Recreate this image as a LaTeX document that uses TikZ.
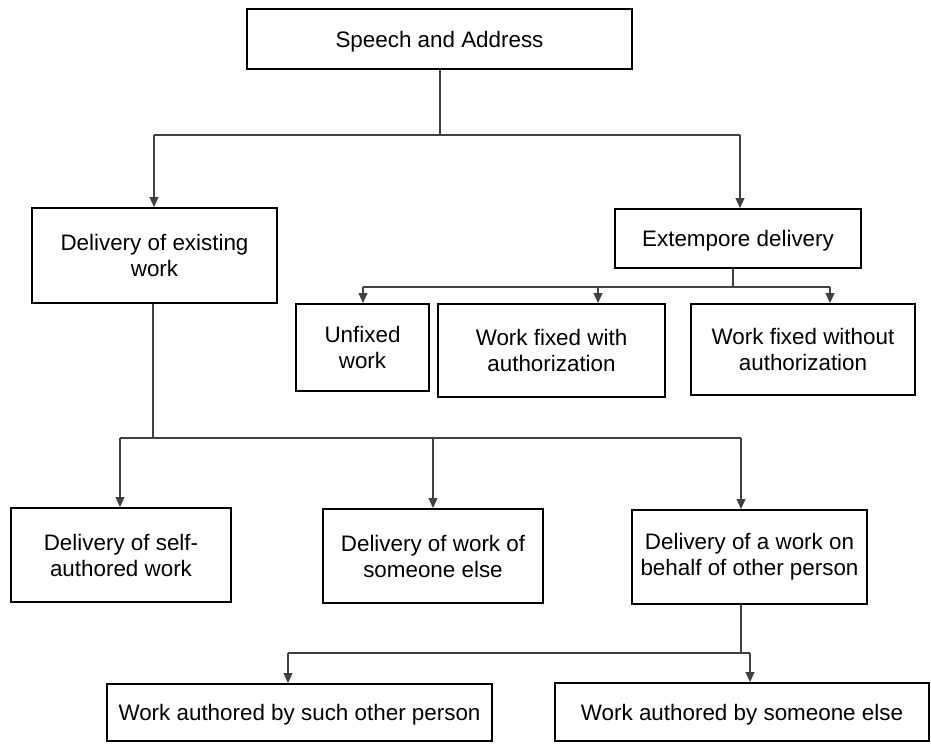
\documentclass[tikz,border=0pt]{standalone}
\usepackage{fontspec}
\setmainfont{Liberation Sans}
\usetikzlibrary{arrows.meta}
\begin{document}
\begin{tikzpicture}[x=1pt,y=-1pt,
  box/.style={draw=black,line width=2pt,rectangle,inner sep=0pt,align=center,font=\fontsize{22.4}{26}\selectfont},
  onel/.style={box,text depth=0pt},
  conn/.style={draw=black!75,line width=1.2pt},
  arr/.style={conn,-{Triangle[length=10pt,width=9pt]}}]
\useasboundingbox[fill=white] (0,0) rectangle (931,744);
% boxes
\node[onel,minimum width=385pt,minimum height=60pt] (sa) at (439.5,39) {Speech and Address};
\node[box,minimum width=245pt,minimum height=95pt] (de) at (154.5,255.5) {Delivery of existing\\work};
\node[onel,minimum width=246pt,minimum height=59pt] (ed) at (738,238.5) {Extempore delivery};
\node[box,minimum width=133pt,minimum height=87pt] (uw) at (362.5,347.5) {Unfixed\\work};
\node[box,minimum width=227pt,minimum height=93pt] (fw) at (551.5,350.5) {Work fixed with\\authorization};
\node[box,minimum width=224pt,minimum height=91pt] (fwo) at (803,349.5) {Work fixed without\\authorization};
\node[box,minimum width=220pt,minimum height=94pt] (sw) at (121,555) {Delivery of self-\\authored work};
\node[box,minimum width=220pt,minimum height=94pt] (se) at (433,556) {Delivery of work of\\someone else};
\node[box,minimum width=235pt,minimum height=94pt] (ob) at (749.5,557) {Delivery of a work on\\behalf of other person};
\node[onel,minimum width=385pt,minimum height=57pt] (wo) at (299.5,712.5) {Work authored by such other person};
\node[onel,minimum width=374pt,minimum height=58pt] (ws) at (742,712) {Work authored by someone else};
% bus coordinates
\coordinate (b1) at (440,135);
\coordinate (b1l) at (154,135);
\coordinate (b1r) at (740,135);
\coordinate (b2) at (733,287);
\coordinate (b2l) at (363,287);
\coordinate (b2m) at (598,287);
\coordinate (b2r) at (830,287);
\coordinate (b3) at (153,438);
\coordinate (b3l) at (120,438);
\coordinate (b3m) at (433,438);
\coordinate (b3r) at (741,438);
\coordinate (b4) at (741,653);
\coordinate (b4l) at (288,653);
\coordinate (b4r) at (750,653);
% connectors level 1
\draw[conn] (sa.south -| b1) -- (b1);
\draw[conn] (b1l) -- (b1r);
\draw[arr] (b1l) -- (b1l |- de.north);
\draw[arr] (b1r) -- (b1r |- ed.north);
% extempore
\draw[conn] (ed.south -| b2) -- (b2);
\draw[conn] (b2l) -- (b2r);
\draw[arr] (b2l) -- (b2l |- uw.north);
\draw[arr] (b2m) -- (b2m |- fw.north);
\draw[arr] (b2r) -- (b2r |- fwo.north);
% existing work
\draw[conn] (de.south -| b3) -- (b3);
\draw[conn] (b3l) -- (b3r);
\draw[arr] (b3l) -- (b3l |- sw.north);
\draw[arr] (b3m) -- (b3m |- se.north);
\draw[arr] (b3r) -- (b3r |- ob.north);
% on behalf
\draw[conn] (ob.south -| b4) -- (b4);
\draw[conn] (b4l) -- (b4r);
\draw[arr] (b4l) -- (b4l |- wo.north);
\draw[arr] (b4r) -- (b4r |- ws.north);
\end{tikzpicture}
\end{document}
